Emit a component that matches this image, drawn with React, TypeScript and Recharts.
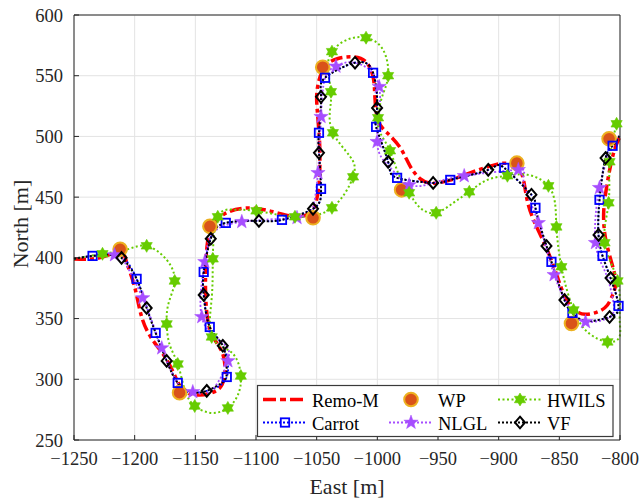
import React from 'react';
import { ComposedChart, Line, XAxis, YAxis, CartesianGrid } from 'recharts';

// [east, north, marker?]
type Pt = number[];

const xTicks = [-1250, -1200, -1150, -1100, -1050, -1000, -950, -900, -850, -800];
const yTicks = [250, 300, 350, 400, 450, 500, 550, 600];

const waypoints: Pt[] = [
  [-1212, 407, 1], [-1163, 289, 1], [-1138, 426, 1], [-1053, 433, 1], [-1045, 557, 1],
  [-980, 456, 1], [-885, 478, 1], [-840, 346, 1], [-809, 498, 1],
];

const remoM: Pt[] = [
  [-1250, 399], [-1229, 400], [-1212, 405], [-1206.5, 396], [-1200, 376], [-1193.5, 349],
  [-1183.5, 330], [-1173.5, 316], [-1164.5, 298], [-1158, 289.5], [-1146.5, 287], [-1135, 289.5],
  [-1128, 295.5], [-1125.5, 307.5], [-1128, 322.5], [-1135.5, 335], [-1140, 350.5], [-1141.5, 369.5],
  [-1141.5, 390], [-1140, 412.5], [-1135.5, 426.5], [-1125.5, 436.5], [-1107.5, 441], [-1086, 438],
  [-1068, 434], [-1055.5, 437], [-1050, 448], [-1047.5, 470], [-1048, 503], [-1050, 530],
  [-1048, 546.5], [-1043, 558], [-1033, 564], [-1020, 565.5], [-1009.5, 561.5], [-1003.5, 549],
  [-1002, 532.5], [-999.5, 513.5], [-992, 503], [-981, 490.5], [-973, 475.5], [-964.5, 465],
  [-955, 461.5], [-940, 464], [-923.5, 470], [-907, 475.5], [-894.5, 478], [-884.5, 475],
  [-879.5, 464], [-876.5, 447.5], [-870.5, 429.5], [-860, 406.5], [-851.5, 384], [-845, 367],
  [-837.5, 357], [-828.5, 353.5], [-818.5, 355.5], [-810.5, 361], [-805.5, 371], [-803.5, 381],
  [-807, 396.5], [-812, 416.5], [-813.5, 435.5], [-812, 452], [-808.5, 472.5], [-804.5, 489],
  [-800.5, 499],
];

const carrot: Pt[] = [
  [-1250, 399.2], [-1234.7, 401.6, 1], [-1219, 403.3], [-1210, 400.5], [-1198.4, 382.7, 1],
  [-1182.7, 338.2, 1], [-1164.5, 297, 1], [-1153, 289], [-1140.6, 290.5], [-1124.1, 301.9, 1],
  [-1127.4, 327.6], [-1138.1, 343.1, 1], [-1143.1, 369.5], [-1143.1, 388.4, 1], [-1137.5, 416],
  [-1124.9, 428.8, 1], [-1097.6, 430.4], [-1078.6, 431.3, 1], [-1053, 440.4], [-1046.4, 456.8, 1],
  [-1048.1, 486.5], [-1048.1, 503, 1], [-1046.4, 532.6], [-1043.1, 548.3, 1], [-1018.4, 560.7],
  [-1003.5, 552.4, 1], [-1000.2, 523.5], [-1001, 507.9, 1], [-991.1, 479.1], [-983.7, 465.9, 1],
  [-954, 461.7], [-939.9, 464.2, 1], [-908.6, 472.5], [-895.4, 474.1, 1], [-873, 452],
  [-869.7, 441.2, 1], [-860.6, 409.8], [-856.5, 396.7, 1], [-845.8, 365.3], [-839.2, 354.6, 1],
  [-828.4, 348], [-808.6, 351.3], [-801.2, 360.4, 1], [-807.8, 383.4], [-814.4, 401.6, 1],
  [-817.7, 418.9], [-816.9, 447.8, 1], [-811.9, 482.2], [-806.1, 492.3, 1], [-800.4, 500.4],
];

const nlgl: Pt[] = [
  [-1250, 399.2], [-1234.7, 401.6], [-1216.6, 402.4, 1], [-1210, 399.5], [-1193.4, 366.9, 1],
  [-1177.7, 325.7, 1], [-1164.5, 297], [-1152.1, 289.6, 1], [-1136.5, 291.2], [-1123.2, 315.1, 1],
  [-1127.4, 330], [-1144.7, 351.4, 1], [-1142.2, 396.7, 1], [-1136, 420], [-1111.7, 429.7, 1],
  [-1066.2, 433, 1], [-1053, 441], [-1048.9, 470, 1], [-1046.4, 516.2, 1], [-1043.1, 548.3],
  [-1034.1, 557.7, 1], [-1018.4, 560.7], [-998.5, 540.9, 1], [-1000.2, 495.6, 1], [-989, 474],
  [-973.8, 460, 1], [-954, 461.7], [-928.4, 467.5, 1], [-883.8, 472.5, 1], [-879.6, 464.2],
  [-867.3, 428.8, 1], [-854.3, 386, 1], [-841, 358], [-828.4, 347.3, 1], [-808.6, 351.3],
  [-805.7, 365], [-812, 388], [-820.2, 412.4, 1], [-816.9, 457.7, 1], [-806.1, 492.3],
  [-800.4, 500.4],
];

const hwils: Pt[] = [
  [-1250, 399.2], [-1226.5, 403.3, 1], [-1206.6, 406.8], [-1190.1, 409.9, 1], [-1173.6, 398.3],
  [-1167, 381, 1], [-1172, 362.9], [-1173.6, 345.6, 1], [-1171.1, 328.3], [-1164.5, 312.6, 1],
  [-1158.7, 291.3], [-1150.5, 278, 1], [-1136.5, 272.3], [-1123.2, 276.4, 1], [-1115, 287],
  [-1112.5, 302.7, 1], [-1120, 322], [-1136.5, 334.9, 1], [-1136.5, 367], [-1135.6, 399.2, 1],
  [-1131.5, 433.8, 1], [-1117.4, 439.6], [-1099.7, 438.7, 1], [-1067.9, 433.8, 1],
  [-1037.4, 441.2, 1], [-1020, 466.7, 1], [-1022.5, 483.5], [-1036.6, 503, 1], [-1039, 521.8],
  [-1038.2, 536.8, 1], [-1040.7, 554.9], [-1037.4, 569.8, 1], [-1025, 579.6], [-1009.3, 581.3, 1],
  [-995.3, 571.4], [-991.1, 550, 1], [-996.1, 532.6], [-999.4, 515.4, 1], [-997.7, 503],
  [-989.5, 488.2, 1], [-982.9, 470], [-973.8, 453.6, 1], [-964.7, 441.2], [-951.5, 437.1, 1],
  [-937.4, 445.3], [-924.2, 454.4, 1], [-909.4, 464.2], [-892.8, 467.6, 1], [-876.3, 468.4],
  [-859, 459.3, 1], [-853.2, 442], [-852.4, 425.5, 1], [-848.3, 392.6, 1], [-838.3, 357.1, 1],
  [-826.1, 338.3], [-810.3, 330.8, 1], [-800.4, 335], [-800.3, 352], [-802, 381, 1],
  [-812.7, 412.4, 1], [-809.4, 445.3, 1], [-808.6, 479.1, 1], [-802.8, 510.4, 1],
];

const vf: Pt[] = [
  [-1250, 399.2], [-1234.7, 401.6], [-1220.6, 402.4], [-1210.8, 400, 1], [-1198.4, 382.7],
  [-1190.1, 358.7, 1], [-1182.7, 338.2], [-1173.6, 315.1, 1], [-1164.5, 297], [-1153, 289.6],
  [-1140.6, 290.5, 1], [-1128.2, 297], [-1124.1, 306], [-1127.4, 327.6, 1], [-1138.1, 343.1],
  [-1143.1, 369.5, 1], [-1143.1, 388.4], [-1137.3, 415.7, 1], [-1124.9, 428.8], [-1097.6, 430.4, 1],
  [-1078.6, 431.3], [-1053, 440.4, 1], [-1046.4, 456.8], [-1048.1, 486.5, 1], [-1048.1, 503],
  [-1046.4, 532.6, 1], [-1043.1, 548.3], [-1018.4, 560.7, 1], [-1003.5, 552.4], [-1000.2, 523.5, 1],
  [-1001, 507.9], [-991.1, 479.1, 1], [-983.7, 465.9], [-954, 461.7, 1], [-939.9, 464.2],
  [-908.6, 472.5, 1], [-895.4, 474.1], [-873, 452, 1], [-869.7, 441.2], [-860.6, 409.8, 1],
  [-856.5, 396.7], [-845.8, 365.3, 1], [-839.2, 354.6], [-828.4, 348], [-808.6, 351.3, 1],
  [-801.2, 360.4], [-807.8, 383.4, 1], [-814.4, 401.6], [-817.7, 418.9, 1], [-816.9, 447.8],
  [-811.9, 482.2, 1], [-806.1, 492.3], [-800.4, 500.4],
];

const toRows = (pts: Pt[]) => pts.map(([x, y, m]) => ({ x, y, m: !!m }));

const AXIS = '#262626';
const FONT = 'Liberation Serif';
const RED = '#ff0000';
const BLUE = '#0000ff';
const PURPLE = '#a64dff';
const GREEN = '#66cc00';

const fmtMinus = (v: number) => String(v).replace('-', '\u2212');

const starPath = (cx: number, cy: number, R: number, r: number) => {
  let d = '';
  for (let i = 0; i < 10; i++) {
    const a = -Math.PI / 2 + (i * Math.PI) / 5;
    const rad = i % 2 === 0 ? R : r;
    d += `${i === 0 ? 'M' : 'L'}${cx + rad * Math.cos(a)},${cy + rad * Math.sin(a)}`;
  }
  return d + 'Z';
};

const hexPath = (cx: number, cy: number, R: number) => {
  const tri = (off: number) =>
    [0, 1, 2]
      .map((i) => {
        const a = off + (i * 2 * Math.PI) / 3;
        return `${i === 0 ? 'M' : 'L'}${cx + R * Math.cos(a)},${cy + R * Math.sin(a)}`;
      })
      .join('') + 'Z';
  return tri(-Math.PI / 2) + tri(Math.PI / 2);
};

const WpMark = ({ cx, cy }: any) => (
  <circle cx={cx} cy={cy} r={6.8} fill="#d95319" stroke="#edb120" strokeWidth={2} />
);
const SquareMark = ({ cx, cy }: any) => (
  <rect x={cx - 4.2} y={cy - 4.2} width={8.4} height={8.4} fill="none" stroke={BLUE} strokeWidth={1.8} />
);
const StarMark = ({ cx, cy }: any) => <path d={starPath(cx, cy, 7.5, 3)} fill={PURPLE} stroke={PURPLE} strokeWidth={0.5} />;
const HexMark = ({ cx, cy }: any) => <path d={hexPath(cx, cy, 6.5)} fill={GREEN} stroke={GREEN} strokeWidth={0.6} />;
const DiamondMark = ({ cx, cy }: any) => (
  <path d={`M${cx},${cy - 5.8}L${cx + 5},${cy}L${cx},${cy + 5.8}L${cx - 5},${cy}Z`} fill="none" stroke="#000" strokeWidth={2} />
);

const markDot = (Shape: any) => (props: any) => {
  const { cx, cy, payload, index } = props;
  if (!payload || !payload.m || cx == null || cy == null) return <g key={`d${index}`} />;
  return <Shape key={`d${index}`} cx={cx} cy={cy} />;
};

const legendRows = [
  { label: 'Remo-M', x: 263, y: 399.5, stroke: RED, width: 3.5, dash: '13 4 6 4', mark: null },
  { label: 'Carrot', x: 263, y: 422.5, stroke: BLUE, width: 1.8, dash: '2 2', mark: SquareMark },
  { label: 'WP', x: 389, y: 399.5, stroke: 'none', width: 0, dash: '', mark: WpMark },
  { label: 'NLGL', x: 389, y: 422.5, stroke: PURPLE, width: 1.8, dash: '2 2', mark: StarMark },
  { label: 'HWILS', x: 498, y: 399.5, stroke: GREEN, width: 2, dash: '2 2.5', mark: HexMark },
  { label: 'VF', x: 498, y: 422.5, stroke: '#000', width: 2, dash: '2 2', mark: DiamondMark },
];

function LegendBox() {
  return (
    <svg width={640} height={501} style={{ position: 'absolute', left: 0, top: 0, pointerEvents: 'none' }}>
      <rect x={257.5} y={385.5} width={355.5} height={51} fill="#fff" stroke="#3a3a3a" strokeWidth={1.2} />
      {legendRows.map((r) => {
        const Mark = r.mark as any;
        return (
          <g key={r.label}>
            {r.stroke !== 'none' && (
              <line x1={r.x} y1={r.y} x2={r.x + 43} y2={r.y} stroke={r.stroke} strokeWidth={r.width} strokeDasharray={r.dash} />
            )}
            {Mark && <Mark cx={r.x + 22} cy={r.y} />}
            <text x={r.x + 49} y={r.y + 7} fontFamily={FONT} fontSize={18.5} fill="#000">
              {r.label}
            </text>
          </g>
        );
      })}
    </svg>
  );
}

export default function App() {
  return (
    <div style={{ position: 'absolute', left: 0, top: 0, width: 640, height: 501, background: '#fff' }}>
      <ComposedChart width={640} height={501} margin={{ top: 14, right: 19, bottom: 0, left: 0 }}>
        <CartesianGrid stroke="#e3e3e3" strokeWidth={1} />
        <XAxis
          dataKey="x"
          type="number"
          domain={[-1250, -800]}
          ticks={xTicks}
          height={61}
          tickSize={-5}
          tickMargin={17}
          stroke={AXIS}
          tickFormatter={fmtMinus}
          tick={{ fill: AXIS, fontSize: 18.5, fontFamily: FONT }}
          label={{
            content: () => (
              <text x={347} y={494} textAnchor="middle" fontFamily={FONT} fontSize={22} fill={AXIS}>
                East [m]
              </text>
            ),
          }}
        />
        <XAxis
          xAxisId="top"
          dataKey="x"
          type="number"
          orientation="top"
          domain={[-1250, -800]}
          ticks={xTicks}
          height={1}
          tickSize={-5}
          tick={false}
          stroke={AXIS}
        />
        <YAxis
          type="number"
          domain={[250, 600]}
          ticks={yTicks}
          width={74}
          tickSize={-5}
          tickMargin={16}
          stroke={AXIS}
          tick={{ fill: AXIS, fontSize: 18.5, fontFamily: FONT }}
          label={{
            content: () => (
              <text x={28} y={224} transform="rotate(-90 28 224)" textAnchor="middle" fontFamily={FONT} fontSize={22} fill={AXIS}>
                North [m]
              </text>
            ),
          }}
        />
        <YAxis
          yAxisId="right"
          type="number"
          orientation="right"
          domain={[250, 600]}
          ticks={yTicks}
          width={1}
          tickSize={-5}
          tick={false}
          stroke={AXIS}
        />
        <Line data={toRows(waypoints)} dataKey="y" type="linear" stroke="none" dot={markDot(WpMark)} activeDot={false} isAnimationActive={false} />
        <Line data={toRows(remoM)} dataKey="y" type="natural" stroke={RED} strokeWidth={3.5} strokeDasharray="12 4 4 4" dot={false} activeDot={false} isAnimationActive={false} />
        <Line data={toRows(carrot)} dataKey="y" type="natural" stroke={BLUE} strokeWidth={1.8} strokeDasharray="2 2" dot={markDot(SquareMark)} activeDot={false} isAnimationActive={false} />
        <Line data={toRows(nlgl)} dataKey="y" type="natural" stroke={PURPLE} strokeWidth={1.8} strokeDasharray="2 2" dot={markDot(StarMark)} activeDot={false} isAnimationActive={false} />
        <Line data={toRows(hwils)} dataKey="y" type="natural" stroke={GREEN} strokeWidth={2} strokeDasharray="2 2.5" dot={markDot(HexMark)} activeDot={false} isAnimationActive={false} />
        <Line data={toRows(vf)} dataKey="y" type="natural" stroke="#000" strokeWidth={2} strokeDasharray="2 2" dot={markDot(DiamondMark)} activeDot={false} isAnimationActive={false} />
      </ComposedChart>
      <LegendBox />
    </div>
  );
}
